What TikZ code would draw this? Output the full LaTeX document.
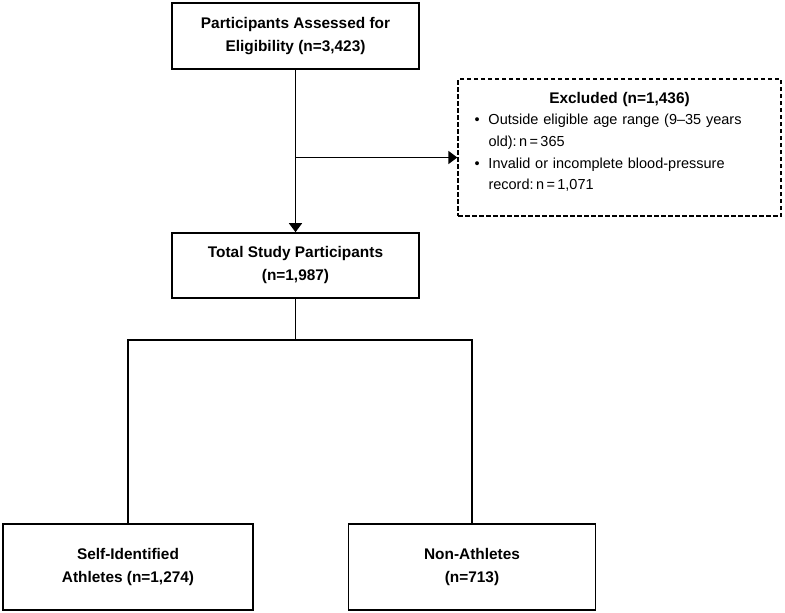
\documentclass[tikz,border=0pt]{standalone}
\usepackage{fontspec}
\setmainfont{Liberation Sans}
\usetikzlibrary{arrows.meta, positioning, calc}

\begin{document}
\begin{tikzpicture}[x=1pt, y=-1pt,
  stagebox/.style={draw, line width=1.6pt, minimum width=247pt, minimum height=66pt,
    align=center, inner sep=0pt, font=\fontsize{15.4}{23}\selectfont\bfseries},
  exclbox/.style={draw, dashed, dash pattern=on 4.5pt off 2.5pt, line width=1.3pt,
    minimum width=323pt, minimum height=137pt, text width=290pt, align=center,
    inner xsep=16.5pt, inner ysep=0pt, font=\fontsize{14.5}{21.7}\selectfont},
  flow/.style={line width=1.6pt},
  flowarrow/.style={flow, -{Triangle[length=9pt, width=13pt]}}]
\useasboundingbox (0,0) rectangle (785,613);
% boxes
\node[stagebox] (assessed) at (295.5,36) {Participants Assessed for\\Eligibility (n=3,423)};
\node[stagebox, minimum height=65pt] (total) at (295.5,265.5) {Total Study Participants\\(n=1,987)};
\node[stagebox, minimum width=250pt, minimum height=86pt] (athletes) at (128,567)
  {Self-Identified\\Athletes (n=1,274)};
\node[stagebox, minimum height=86pt] (nonathletes) at (472,567) {Non-Athletes\\(n=713)};
\node[exclbox] (excluded) at (619.5,147.5)
  {{\fontsize{15.4}{21.7}\selectfont\bfseries Excluded (n=1,436)}\\
   \makebox[290pt][l]{\makebox[14pt][l]{\textbullet}Outside eligible age range (9–35 years}\\
   \makebox[290pt][l]{\hspace*{14pt}old):\,n\,=\,365}\\
   \makebox[290pt][l]{\makebox[14pt][l]{\textbullet}Invalid or incomplete blood-pressure}\\
   \makebox[290pt][l]{\hspace*{14pt}record:\,n\,=\,1,071\rule[-13pt]{0pt}{1pt}}};
% connectors
\coordinate (split) at ($(assessed.south)!0.54!(total.north)$);
\coordinate (fork) at (295.5,340);
\draw[flowarrow] (assessed.south) -- (total.north);
\draw[flowarrow] (split) -- (split -| excluded.west);
\draw[flow] (total.south) -- (fork);
\draw[flow] (athletes.north) -- (athletes.north |- fork) -- (nonathletes.north |- fork)
  -- (nonathletes.north);
\end{tikzpicture}
\end{document}
